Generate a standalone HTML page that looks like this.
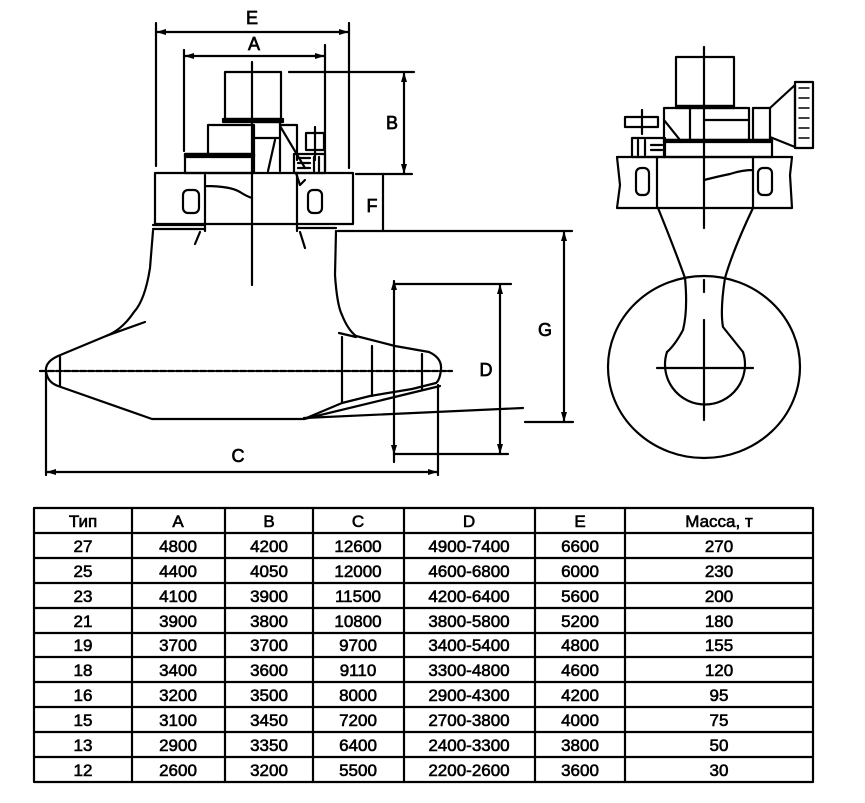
<!DOCTYPE html>
<html><head><meta charset="utf-8"><style>
html,body{margin:0;padding:0;background:#fff;}
svg{display:block;}
text{font-family:"Liberation Sans",sans-serif;fill:#000;}
</style></head><body>
<svg width="865" height="803" viewBox="0 0 865 803" xmlns="http://www.w3.org/2000/svg">
<defs>
<marker id="ar" markerWidth="10" markerHeight="8" refX="9" refY="4" orient="auto-start-reverse" markerUnits="userSpaceOnUse">
<path d="M0,1 L10,4 L0,7 Z" fill="#000"/></marker>
</defs>
<g stroke="#000" stroke-width="2.2" fill="none" stroke-linecap="round" stroke-linejoin="round">
<line x1="156" y1="23" x2="156" y2="166"/>
<line x1="349" y1="23" x2="349" y2="168"/>
<line x1="157" y1="32" x2="348" y2="32" marker-start="url(#ar)" marker-end="url(#ar)"/>
<line x1="184" y1="50" x2="184" y2="151"/>
<line x1="325" y1="45" x2="325" y2="171"/>
<line x1="185" y1="56" x2="324" y2="56" marker-start="url(#ar)" marker-end="url(#ar)"/>
<line x1="252" y1="62" x2="252" y2="285"/>
<line x1="289" y1="72" x2="414" y2="72"/>
<line x1="356" y1="174" x2="412" y2="174"/>
<line x1="404" y1="73" x2="404" y2="173" marker-start="url(#ar)" marker-end="url(#ar)"/>
<line x1="383" y1="175" x2="383" y2="231"/>
<line x1="338" y1="231" x2="572" y2="231"/>
<line x1="564" y1="232" x2="564" y2="421" marker-start="url(#ar)" marker-end="url(#ar)"/>
<line x1="525" y1="422" x2="573" y2="422"/>
<line x1="394" y1="284" x2="511" y2="284"/>
<line x1="394" y1="454" x2="508" y2="454"/>
<line x1="394" y1="281" x2="394" y2="462" marker-start="url(#ar)"/>
<line x1="394" y1="453" x2="394" y2="454" marker-end="url(#ar)"/>
<line x1="500" y1="285" x2="500" y2="453" marker-start="url(#ar)" marker-end="url(#ar)"/>
<line x1="46" y1="372" x2="46" y2="475"/>
<line x1="438" y1="385" x2="438" y2="475"/>
<line x1="47" y1="472" x2="437" y2="472" marker-start="url(#ar)" marker-end="url(#ar)"/>
<rect x="225" y="72" width="56" height="47"/>
<rect x="223" y="119" width="60" height="3" fill="#000"/>
<rect x="208" y="125" width="46" height="30"/>
<path d="M254,122 L280,122 L280,171 M254,138 L280,138 M280,125 L297,125 L297,160 M280,126 L305,168 M275,140 L268,171"/>
<rect x="185" y="154" width="69" height="19"/>
<rect x="185" y="154" width="69" height="3" fill="#000"/>
<rect x="306" y="133" width="18" height="17"/>
<line x1="315" y1="127" x2="315" y2="160"/>
<rect x="294" y="154" width="31" height="19"/>
<path d="M298,158 L310,158 M298,163 L310,163 M298,168 L310,168 M314,157 L314,171 M319,157 L319,171"/>
<path d="M296,173 L300,185 L305,180"/>
<path d="M155,173 L353,173 L353,224 L155,224 Z"/>
<rect x="183" y="190" width="16" height="23" rx="5"/>
<rect x="308" y="190" width="14" height="23" rx="5"/>
<path d="M205,175 L205,231 M297,175 L297,231 M205,186 Q230,186 240,192 Q246,196 252,198"/>
<path d="M153,225 L205,225 M153,229 L205,229 M297,228 L336,228"/>
<path d="M200,232 L195,244 M300,232 L305,248"/>
<path d="M153,231 L150,268 Q145,300 134,312 Q122,330 106,336 L58,356 Q45,362 46,371 Q47,382 58,386 L152,419 L304,419 L440,386"/>
<path d="M336,231 L335,275 Q337,305 342,315 Q348,330 356,336 L395,346 L429,352 Q442,358 441,369 Q440,380 436,383 L412,389 L370,396 L342,403 L304,419"/>
<path d="M106,336 L145,322 M339,333 L356,337"/>
<path d="M60,357 L60,386 M342,337 L342,403 M372,346 L372,396 M422,354 L422,389"/>
<line x1="304" y1="418" x2="523" y2="408"/>
<line x1="40" y1="371" x2="452" y2="371" stroke-dasharray="6,2"/>
<line x1="704" y1="47" x2="704" y2="228"/>
<line x1="704" y1="280" x2="704" y2="292"/>
<line x1="704" y1="320" x2="704" y2="420"/>
<line x1="657" y1="368" x2="753" y2="368"/>
<rect x="676" y="57" width="58" height="49"/>
<rect x="676" y="106" width="58" height="2" fill="#000"/>
<path d="M664,108 L749,108 L749,140 L664,140 Z M704,120 L749,120 M690,108 L690,140 M664,120 L680,140"/>
<rect x="664" y="140" width="108" height="17"/>
<rect x="664" y="140" width="108" height="2" fill="#000"/>
<rect x="753" y="108" width="17" height="32"/>
<path d="M770,108 L795,85 L795,147 L770,137"/>
<rect x="795" y="82" width="18" height="66"/>
<path d="M799,88 L809,88 M799,98 L809,98 M799,108 L809,108 M799,118 L809,118 M799,128 L809,128 M799,138 L809,138" stroke-width="1.5"/>
<rect x="625" y="117" width="33" height="10"/>
<line x1="642" y1="110" x2="642" y2="134"/>
<rect x="632" y="138" width="33" height="19"/>
<path d="M638,140 L638,155 M645,140 L645,155 M651,145 L662,145 M651,150 L662,150"/>
<path d="M617,157 L792,157 L790,175 L792,208 L617,208 L620,185 Z"/>
<rect x="636" y="168" width="13" height="27" rx="5"/>
<rect x="758" y="168" width="14" height="27" rx="5"/>
<path d="M657,157 L657,208 M753,157 L753,208 M704,180 Q720,176 730,174 Q742,170 753,170"/>
<path d="M658,208 Q675,250 685,278 Q688,310 683,330 Q675,345 667,352"/>
<path d="M753,208 Q733,250 725,278 Q720,310 723,327 Q735,342 743,352"/>
<path d="M667,352 A40,40 0 1 0 743,352"/>
<ellipse cx="704" cy="367" rx="96" ry="91"/>
<rect x="34" y="508" width="779" height="274"/>
<line x1="132" y1="508" x2="132" y2="782"/>
<line x1="225" y1="508" x2="225" y2="782"/>
<line x1="313" y1="508" x2="313" y2="782"/>
<line x1="404" y1="508" x2="404" y2="782"/>
<line x1="535" y1="508" x2="535" y2="782"/>
<line x1="625" y1="508" x2="625" y2="782"/>
<line x1="34" y1="533" x2="813" y2="533"/>
<line x1="34" y1="558" x2="813" y2="558"/>
<line x1="34" y1="583" x2="813" y2="583"/>
<line x1="34" y1="608" x2="813" y2="608"/>
<line x1="34" y1="633" x2="813" y2="633"/>
<line x1="34" y1="657" x2="813" y2="657"/>
<line x1="34" y1="682" x2="813" y2="682"/>
<line x1="34" y1="707" x2="813" y2="707"/>
<line x1="34" y1="732" x2="813" y2="732"/>
<line x1="34" y1="757" x2="813" y2="757"/>
</g>
<g font-size="18" text-anchor="middle" stroke="#000" stroke-width="0.7">
<text x="252" y="24">E</text>
<text x="254" y="50">A</text>
<text x="392" y="129">B</text>
<text x="372" y="212">F</text>
<text x="545" y="336">G</text>
<text x="486" y="376">D</text>
<text x="238" y="462">C</text>
</g>
<g font-size="17" text-anchor="middle" stroke="#000" stroke-width="0.6">
<text x="83" y="527">Тип</text><text x="178" y="527">A</text><text x="269" y="527">B</text><text x="358" y="527">C</text><text x="469" y="527">D</text><text x="580" y="527">E</text><text x="719" y="527">Масса, т</text>
<text x="83" y="552">27</text><text x="178" y="552">4800</text><text x="269" y="552">4200</text><text x="358" y="552">12600</text><text x="469" y="552">4900-7400</text><text x="580" y="552">6600</text><text x="719" y="552">270</text>
<text x="83" y="577">25</text><text x="178" y="577">4400</text><text x="269" y="577">4050</text><text x="358" y="577">12000</text><text x="469" y="577">4600-6800</text><text x="580" y="577">6000</text><text x="719" y="577">230</text>
<text x="83" y="602">23</text><text x="178" y="602">4100</text><text x="269" y="602">3900</text><text x="358" y="602">11500</text><text x="469" y="602">4200-6400</text><text x="580" y="602">5600</text><text x="719" y="602">200</text>
<text x="83" y="627">21</text><text x="178" y="627">3900</text><text x="269" y="627">3800</text><text x="358" y="627">10800</text><text x="469" y="627">3800-5800</text><text x="580" y="627">5200</text><text x="719" y="627">180</text>
<text x="83" y="651">19</text><text x="178" y="651">3700</text><text x="269" y="651">3700</text><text x="358" y="651">9700</text><text x="469" y="651">3400-5400</text><text x="580" y="651">4800</text><text x="719" y="651">155</text>
<text x="83" y="676">18</text><text x="178" y="676">3400</text><text x="269" y="676">3600</text><text x="358" y="676">9110</text><text x="469" y="676">3300-4800</text><text x="580" y="676">4600</text><text x="719" y="676">120</text>
<text x="83" y="701">16</text><text x="178" y="701">3200</text><text x="269" y="701">3500</text><text x="358" y="701">8000</text><text x="469" y="701">2900-4300</text><text x="580" y="701">4200</text><text x="719" y="701">95</text>
<text x="83" y="726">15</text><text x="178" y="726">3100</text><text x="269" y="726">3450</text><text x="358" y="726">7200</text><text x="469" y="726">2700-3800</text><text x="580" y="726">4000</text><text x="719" y="726">75</text>
<text x="83" y="751">13</text><text x="178" y="751">2900</text><text x="269" y="751">3350</text><text x="358" y="751">6400</text><text x="469" y="751">2400-3300</text><text x="580" y="751">3800</text><text x="719" y="751">50</text>
<text x="83" y="776">12</text><text x="178" y="776">2600</text><text x="269" y="776">3200</text><text x="358" y="776">5500</text><text x="469" y="776">2200-2600</text><text x="580" y="776">3600</text><text x="719" y="776">30</text>
</g>
</svg>
</body></html>
